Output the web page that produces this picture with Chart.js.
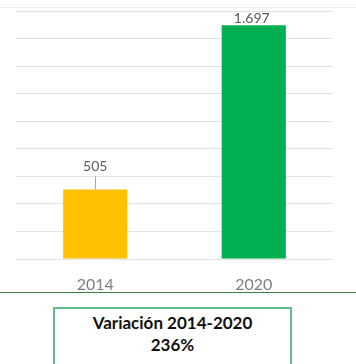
<!DOCTYPE html>
<html>
<head>
<meta charset="utf-8">
<script src="https://cdn.jsdelivr.net/npm/chart.js@4/dist/chart.umd.min.js"></script>
<style>
  html, body { margin:0; padding:0; background:#ffffff; }
  body { width:356px; height:364px; position:relative; overflow:hidden; font-family: Lato, "Open Sans", sans-serif; }
  #wrap { position:absolute; left:0; top:0; width:356px; height:300px; }
  #topline { position:absolute; left:0; top:7px; width:356px; height:0; border-top:1px solid #f2f2f2; }
  #rule { position:absolute; left:0; top:292px; width:356px; height:0; border-top:1.5px solid #3f7f45; }
  #box { position:absolute; left:53px; top:307px; width:235px; height:52px; border:2px solid #62bb8c;
         text-align:center; font-weight:bold; font-size:17px; line-height:22px; color:#111; padding-top:3px; box-sizing:content-box; }
</style>
</head>
<body>
<div id="topline"></div>
<div id="wrap"><canvas id="c" width="356" height="300"></canvas></div>
<div id="rule"></div>
<div id="box">Variación 2014-2020<br>236%</div>
<script>
const categories = ["2014", "2020"];
const values = [505, 1697];
const barColors = ["#FFC000", "#00B050"];
const yTicks = [0, 200, 400, 600, 800, 1000, 1200, 1400, 1600, 1800];

function fmt(v) {
  return String(v).replace(/\B(?=(\d{3})+(?!\d))/g, ".");
}

const labelPlugin = {
  id: "valueLabels",
  afterDatasetsDraw(chart, args, opts) {
    const ctx = chart.ctx;
    const meta = chart.getDatasetMeta(0);
    ctx.save();
    ctx.font = "14px Lato, 'Open Sans', sans-serif";
    ctx.fillStyle = "#595959";
    ctx.textAlign = "center";
    ctx.textBaseline = "middle";
    meta.data.forEach((bar, i) => {
      const off = opts.offsets[i];
      const ly = bar.y - off.dy;
      const lx = bar.x + off.dx;
      ctx.fillText(fmt(values[i]), lx, ly);
      if (off.leader) {
        ctx.strokeStyle = "#a6a6a6";
        ctx.lineWidth = 1;
        ctx.beginPath();
        ctx.moveTo(Math.round(bar.x) + 0.5, ly + 10);
        ctx.lineTo(Math.round(bar.x) + 0.5, bar.y);
        ctx.stroke();
      }
    });
    ctx.restore();
  }
};

new Chart(document.getElementById("c"), {
  type: "bar",
  data: {
    labels: categories,
    datasets: [{
      data: values,
      backgroundColor: barColors,
      borderWidth: 0,
      barPercentage: 0.405,
      categoryPercentage: 1.0
    }]
  },
  options: {
    responsive: false,
    animation: false,
    events: [],
    layout: { padding: { left: 16, right: 23, top: 11, bottom: 0 } },
    plugins: {
      legend: { display: false },
      tooltip: { enabled: false },
      valueLabels: { offsets: [ { dx: 0, dy: 23, leader: true }, { dx: -2, dy: 7, leader: false } ] }
    },
    scales: {
      x: {
        grid: { display: false, drawTicks: false },
        border: { display: false },
        ticks: { color: "#7f7f7f", font: { size: 16, family: "Lato, 'Open Sans', sans-serif" }, padding: 16 },
        afterFit: s => { s.height = 41; }
      },
      y: {
        min: 0, max: 1800,
        afterBuildTicks: s => { s.ticks = yTicks.map(v => ({ value: v })); },
        grid: { color: "#e3e3e3", lineWidth: 1, drawTicks: false },
        border: { display: false },
        ticks: { display: false },
        afterFit: s => { s.width = 0; }
      }
    }
  },
  plugins: [labelPlugin]
});
</script>
</body>
</html>
